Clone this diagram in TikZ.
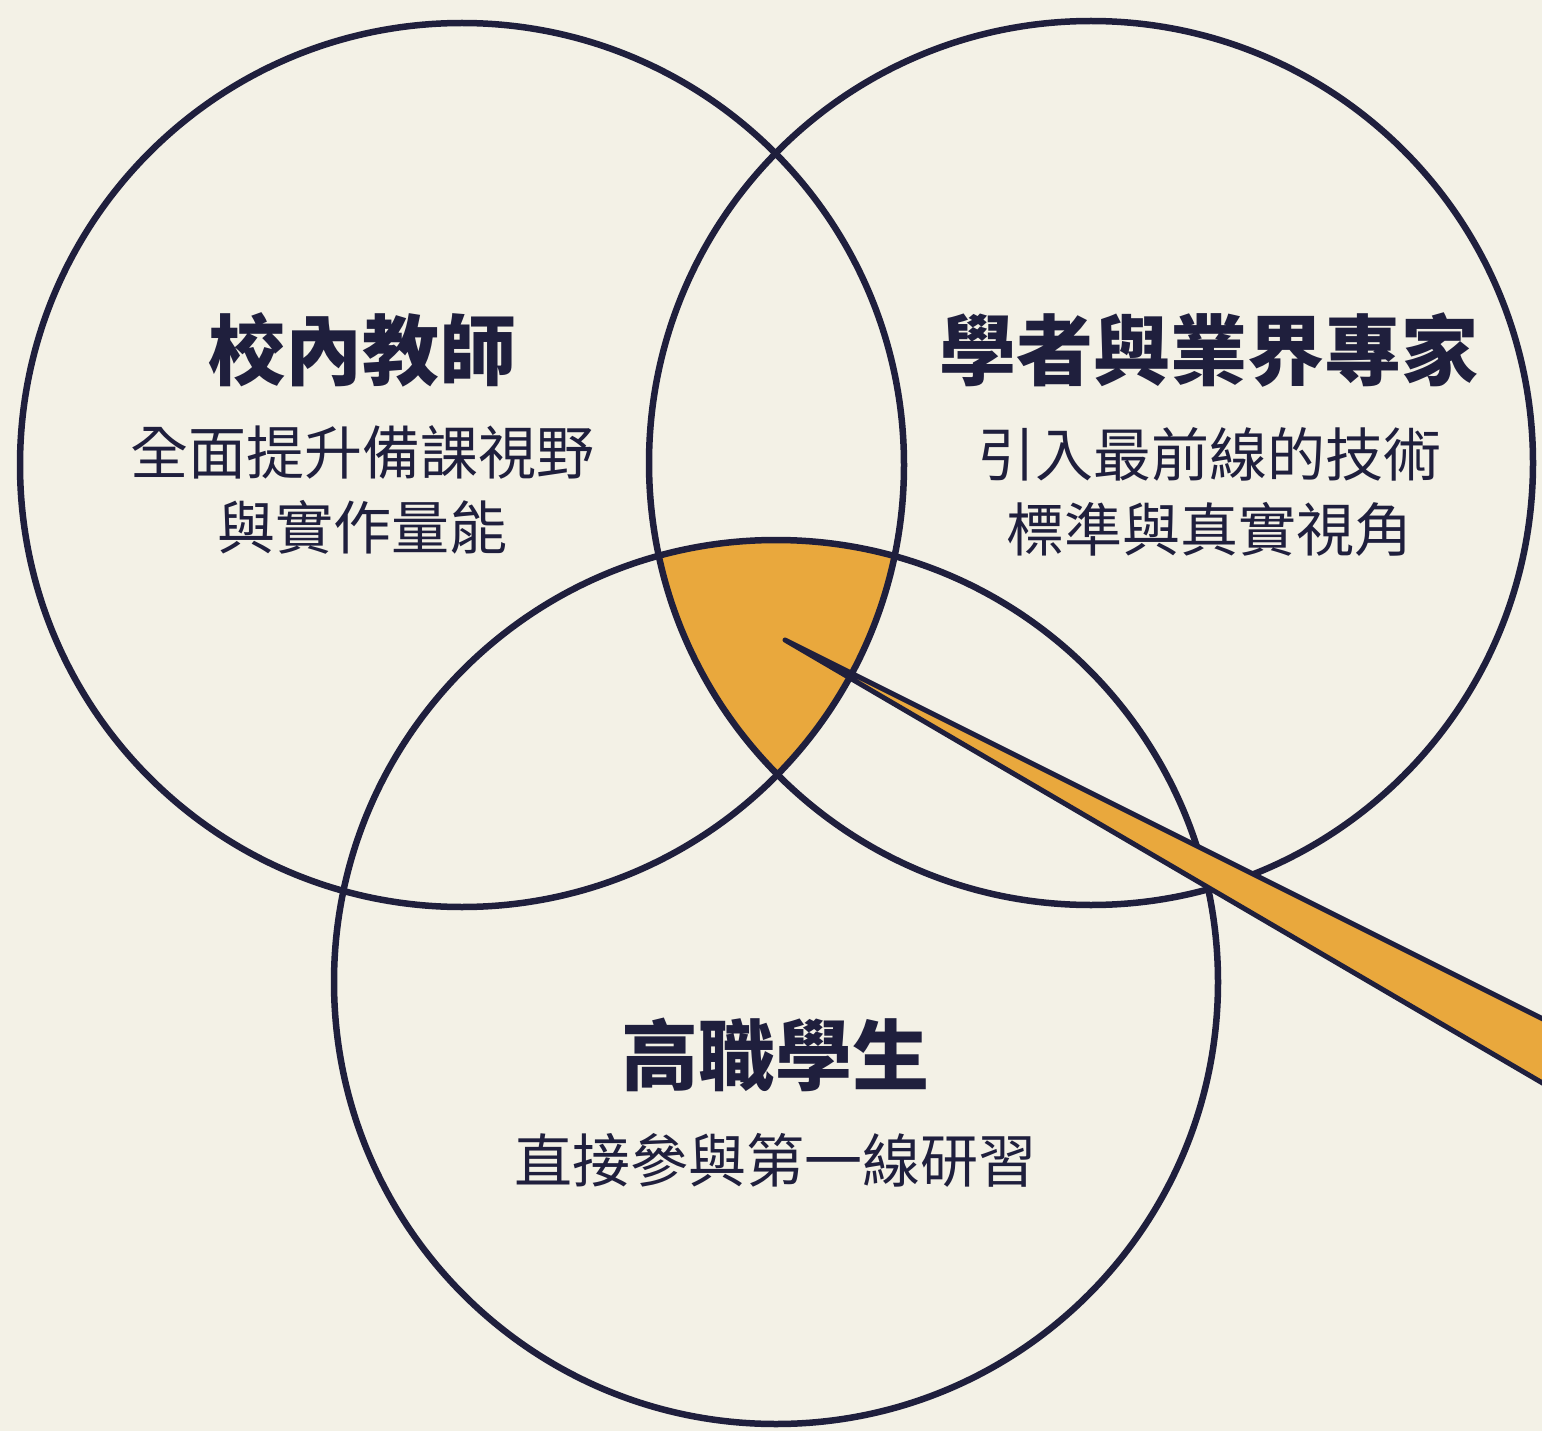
\documentclass[tikz,border=0pt]{standalone}
\usepackage{fontspec}
\newfontfamily\cjk{Noto Sans CJK TC}
\definecolor{bg}{HTML}{F3F1E6}
\definecolor{navy}{HTML}{1F1F3D}
\definecolor{gold}{HTML}{E9A83D}
\begin{document}
\begin{tikzpicture}[x=1pt,y=-1pt,
  ring/.style={draw=navy, line width=6.5pt},
  title/.style={text=navy, inner sep=0pt, font=\cjk\bfseries\fontsize{77}{77}\selectfont},
  sub/.style={text=navy, inner sep=0pt, align=center, font=\cjk\fontsize{58}{75}\selectfont},
  pointer/.style={fill=gold, draw=navy, line width=5pt, line join=round}]
\fill[bg] (0,0) rectangle (1542,1431);
\useasboundingbox (0,0) rectangle (1542,1431);
\coordinate (cA) at (462,465);
\coordinate (cB) at (1091,463);
\coordinate (cC) at (776,982);
% triple intersection
\begin{scope}
  \clip (cA) circle (442pt);
  \clip (cB) circle (442pt);
  \fill[gold] (cC) circle (442pt);
\end{scope}
\draw[ring] (cA) circle (442pt);
\draw[ring] (cB) circle (442pt);
\draw[ring] (cC) circle (442pt);
% pointer
\coordinate (tip) at (785,640);
\coordinate (pu) at (1575,1035);
\coordinate (pl) at (1575,1102);
\begin{scope}
  \clip (0,0) rectangle (1542,1431);
  \draw[pointer] (tip) -- (pu) -- (pl) -- cycle;
\end{scope}
% texts
\node[title] (tA) at (362,350) {校內教師};
\node[sub] (sA) at (362,490) {全面提升備課視野\\與實作量能};
\node[title] (tB) at (1209,350) {學者與業界專家};
\node[sub] (sB) at (1209,492) {引入最前線的技術\\標準與真實視角};
\node[title] (tC) at (775,1055) {高職學生};
\node[sub] (sC) at (775,1160) {直接參與第一線研習};
\end{tikzpicture}
\end{document}
